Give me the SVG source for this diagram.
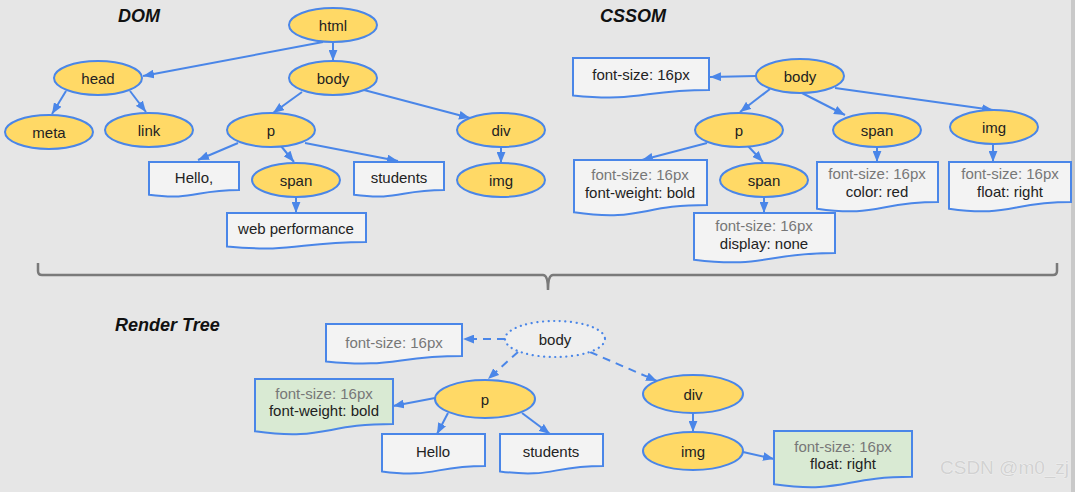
<svg xmlns="http://www.w3.org/2000/svg" width="1075" height="492" viewBox="0 0 1075 492">
<defs>
<style>
text{font-family:"Liberation Sans",Arial,sans-serif;font-size:15px;fill:#222;text-anchor:middle}
.t{font-size:18px;font-weight:bold;font-style:italic;fill:#111;text-anchor:start}
.g{fill:#777}
.el{fill:#ffd966;stroke:#4a86e8;stroke-width:2}
.dot{fill:#efefef;stroke:#4a86e8;stroke-width:2.2;stroke-dasharray:0.1 5.5;stroke-linecap:round}
.bx{fill:#f3f3f3;stroke:#4a86e8;stroke-width:2}
.gb{fill:#d9ead3;stroke:#4a86e8;stroke-width:2}
.c{stroke:#4a86e8;stroke-width:2;fill:none;marker-end:url(#ah)}
.d{stroke-dasharray:8 6}
</style>
<marker id="ah" viewBox="0 0 10 8" refX="10" refY="4" markerWidth="11" markerHeight="9" orient="auto" markerUnits="userSpaceOnUse">
<path d="M0,0 L10,4 L0,8 z" fill="#4a86e8"/>
</marker>
</defs>
<rect width="1075" height="492" fill="#e6e6e6"/>
<rect x="1071" y="0" width="4" height="492" fill="#c9c9c9"/>

<text class="t" x="118" y="22">DOM</text>
<text class="t" x="600" y="22">CSSOM</text>
<text class="t" x="115" y="331">Render Tree</text>

<path d="M38 263 V271 Q38 275 42 275 H543 Q548 275 548 290 Q548 275 553 275 H1053 Q1057 275 1057 271 V263" fill="none" stroke="#7a7a7a" stroke-width="2.5"/>

<g id="connectors">
<path class="c" d="M323 42 L143 76"/>
<path class="c" d="M333 42 L333 61"/>
<path class="c" d="M66 91 L52 114"/>
<path class="c" d="M130 91 L146 112"/>
<path class="c" d="M302 92 L273 113"/>
<path class="c" d="M364 90 L470 118"/>
<path class="c" d="M238 143 L198 160"/>
<path class="c" d="M281 146 L294 162"/>
<path class="c" d="M305 143 L398 161"/>
<path class="c" d="M501 147 L501 163"/>
<path class="c" d="M296 197 L296 213"/>

<path class="c" d="M756 76 L710 77"/>
<path class="c" d="M770 89 L740 112"/>
<path class="c" d="M802 93 L845 115"/>
<path class="c" d="M835 88 L993 110"/>
<path class="c" d="M707 143 L642 160"/>
<path class="c" d="M748 146 L763 162"/>
<path class="c" d="M877 147 L877 162"/>
<path class="c" d="M993 144 L993 162"/>
<path class="c" d="M764 197 L764 213"/>

<path class="c d" d="M505 339 L463 339"/>
<path class="c d" d="M518 352 L488 379"/>
<path class="c d" d="M590 352 L657 381"/>
<path class="c" d="M435 398 L393 406"/>
<path class="c" d="M448 413 L437 434"/>
<path class="c" d="M522 413 L550 434"/>
<path class="c" d="M693 413 L693 432"/>
<path class="c" d="M743 452 L774 459"/>
</g>

<!-- DOM -->
<g id="dom-html"><ellipse class="el" cx="333" cy="25" rx="44" ry="17"/><text x="333" y="30.5">html</text></g>
<g id="dom-head"><ellipse class="el" cx="98" cy="78" rx="44" ry="17"/><text x="98" y="83.5">head</text></g>
<g id="dom-body"><ellipse class="el" cx="333" cy="78" rx="44" ry="17"/><text x="333" y="83.5">body</text></g>
<g id="dom-meta"><ellipse class="el" cx="49" cy="132" rx="44" ry="17"/><text x="49" y="137.5">meta</text></g>
<g id="dom-link"><ellipse class="el" cx="149" cy="130" rx="44" ry="17"/><text x="149" y="135.5">link</text></g>
<g id="dom-p"><ellipse class="el" cx="271" cy="130" rx="44" ry="17"/><text x="271" y="135.5">p</text></g>
<g id="dom-div"><ellipse class="el" cx="501" cy="130" rx="44" ry="17"/><text x="501" y="135.5">div</text></g>
<g id="dom-hello"><path class="bx" d="M149 162 H239 V190 C194 190 194 200.7 149 194.7 Z"/><text x="194" y="182.5">Hello,</text></g>
<g id="dom-span"><ellipse class="el" cx="296" cy="180" rx="44" ry="17"/><text x="296" y="185.5">span</text></g>
<g id="dom-students"><path class="bx" d="M354 162 H444 V190 C399 190 399 200.7 354 194.7 Z"/><text x="399" y="182.5">students</text></g>
<g id="dom-img"><ellipse class="el" cx="501" cy="180" rx="44" ry="17"/><text x="501" y="185.5">img</text></g>
<g id="dom-webperf"><path class="bx" d="M227 213 H366 V241.9 C296.5 241.9 296.5 252.8 227 246.6 Z"/><text x="296" y="233.5">web performance</text></g>

<!-- CSSOM -->
<g id="css-fs"><path class="bx" d="M573 58 H709 V90 C641 90 641 102.3 573 95.4 Z"/><text x="641" y="79.5">font-size: 16px</text></g>
<g id="css-body"><ellipse class="el" cx="800" cy="76" rx="44" ry="17"/><text x="800" y="81.5">body</text></g>
<g id="css-p"><ellipse class="el" cx="739" cy="130" rx="44" ry="17"/><text x="739" y="135.5">p</text></g>
<g id="css-span"><ellipse class="el" cx="877" cy="130" rx="44" ry="17"/><text x="877" y="135.5">span</text></g>
<g id="css-img"><ellipse class="el" cx="994" cy="127" rx="44" ry="17"/><text x="994" y="132.5">img</text></g>
<g id="css-pbox"><path class="bx" d="M574 160 H707 V204.9 C640.5 204.9 640.5 222 574 212.3 Z"/><text class="g" x="640" y="179.5">font-size: 16px</text><text x="640" y="197.5">font-weight: bold</text></g>
<g id="css-span2"><ellipse class="el" cx="764" cy="180" rx="44" ry="17"/><text x="764" y="185.5">span</text></g>
<g id="css-display"><path class="bx" d="M694 213 H835 V253.1 C764.5 253.1 764.5 268.4 694 259.7 Z"/><text class="g" x="764" y="230.5">font-size: 16px</text><text x="764" y="248.5">display: none</text></g>
<g id="css-color"><path class="bx" d="M817 162 H938 V202.1 C877.5 202.1 877.5 217.4 817 208.7 Z"/><text class="g" x="877" y="178.5">font-size: 16px</text><text x="877" y="196.5">color: red</text></g>
<g id="css-float"><path class="bx" d="M949 162 H1071 V202.1 C1010 202.1 1010 217.4 949 208.7 Z"/><text class="g" x="1010" y="178.5">font-size: 16px</text><text x="1010" y="196.5">float: right</text></g>

<!-- Render tree -->
<g id="rt-fs"><path class="bx" d="M326 324 H462 V356.1 C394 356.1 394 368.3 326 361.4 Z"/><text class="g" x="394" y="347.5">font-size: 16px</text></g>
<g id="rt-body"><ellipse class="dot" cx="555" cy="339" rx="50" ry="18"/><text x="555" y="344.5">body</text></g>
<g id="rt-pbox"><path class="gb" d="M255 379 H393 V423.9 C324 423.9 324 441 255 431.3 Z"/><text class="g" x="324" y="398.5">font-size: 16px</text><text x="324" y="415.5">font-weight: bold</text></g>
<g id="rt-p"><ellipse class="el" cx="485" cy="399" rx="50" ry="19"/><text x="485" y="404.5">p</text></g>
<g id="rt-hello"><path class="bx" d="M382 434 H485 V466.1 C433.5 466.1 433.5 478.3 382 471.4 Z"/><text x="433" y="456.5">Hello</text></g>
<g id="rt-students"><path class="bx" d="M500 434 H603 V466.1 C551.5 466.1 551.5 478.3 500 471.4 Z"/><text x="551" y="456.5">students</text></g>
<g id="rt-div"><ellipse class="el" cx="693" cy="394" rx="50" ry="19"/><text x="693" y="399.5">div</text></g>
<g id="rt-img"><ellipse class="el" cx="693" cy="451" rx="50" ry="19"/><text x="693" y="456.5">img</text></g>
<g id="rt-imgbox"><path class="gb" d="M774 431 H912 V476.7 C843 476.7 843 494 774 484.2 Z"/><text class="g" x="843" y="451.5">font-size: 16px</text><text x="843" y="468.5">float: right</text></g>

<text x="940" y="474" style="text-anchor:start;font-size:19px;fill:#d2d2d2;stroke:#f8f8f8;stroke-width:0.6;paint-order:stroke">CSDN @m0_zj</text>
</svg>
